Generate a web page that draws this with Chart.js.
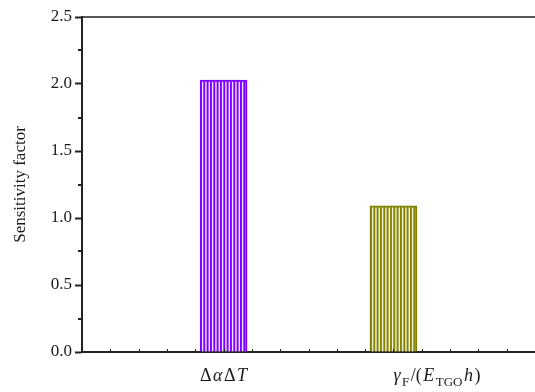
<!DOCTYPE html>
<html>
<head>
<meta charset="utf-8">
<script src="https://cdn.jsdelivr.net/npm/chart.js@4.4.0/dist/chart.umd.min.js"></script>
<style>
  body { margin: 0; background: #fff; }
</style>
</head>
<body>
<canvas id="chart" width="535" height="392"></canvas>
<script>
// data
const categories = ['ΔαΔT', 'γF/(ETGO h)'];
const xValues = [5, 11];
const sensitivity = [2.03, 1.09];
const yTicks = [0, 0.5, 1.0, 1.5, 2.0, 2.5];

// rich text pieces for the x labels (italic / subscript)
const labelParts = [
    [{ t: 'Δ' }, { t: 'α', it: true }, { t: 'Δ' }, { t: 'T', it: true }],
    [{ t: 'γ', it: true }, { t: 'F', sub: true }, { t: '/(' }, { t: 'E', it: true },
     { t: 'TGO', sub: true }, { t: 'h', it: true }, { t: ')' }]
];

const SERIF = '"Liberation Serif", "DejaVu Serif", serif';

// vertical stripes like the origin fill
function stripes(line, bg) {
    const c = document.createElement('canvas');
    c.width = 10; c.height = 10;
    const g = c.getContext('2d');
    g.fillStyle = bg;
    g.fillRect(0, 0, 10, 10);
    g.fillStyle = line;
    for (let i = 0; i < 3; i++) g.fillRect(i * 10 / 3, 0, 1.9, 10);
    return g.createPattern(c, 'repeat');
}

const ctx = document.getElementById('chart').getContext('2d');

const framePlugin = {
    id: 'frame',
    afterDraw(chart) {
        const c = chart.ctx;
        const area = chart.chartArea;
        const xs = chart.scales.x, ys = chart.scales.y;
        c.save();
        c.strokeStyle = '#222';
        // top line
        c.lineWidth = 1.5;
        c.beginPath();
        c.moveTo(area.left, area.top);
        c.lineTo(chart.width, area.top);
        c.stroke();
        // minor y ticks
        c.lineWidth = 2;
        for (let v = 0.25; v < 2.5; v += 0.5) {
            const y = Math.round(ys.getPixelForValue(v));
            c.beginPath();
            c.moveTo(area.left - 4, y);
            c.lineTo(area.left, y);
            c.stroke();
        }
        // small inward ticks on x axis
        c.lineWidth = 1;
        for (let v = 1; v < 16; v++) {
            const x = Math.round(xs.getPixelForValue(v)) + 0.5;
            c.beginPath();
            c.moveTo(x, area.bottom);
            c.lineTo(x, area.bottom - 3);
            c.stroke();
        }
        // x labels
        c.fillStyle = '#1a1a1a';
        c.textBaseline = 'alphabetic';
        c.textAlign = 'left';
        const base = area.bottom + 29;
        labelParts.forEach((parts, i) => {
            const widths = parts.map(p => {
                c.font = fontFor(p);
                return c.measureText(p.t).width;
            });
            const gap = 1.5;
            const total = widths.reduce((a, b) => a + b, 0) + gap * (parts.length - 1);
            const cx = xs.getPixelForValue(xValues[i]);
            let x = i === 0 ? cx - total / 2 : cx;
            parts.forEach((p, j) => {
                c.font = fontFor(p);
                c.fillText(p.t, x, p.sub ? base + 5 : base);
                x += widths[j] + gap;
            });
        });
        c.restore();
    }
};

function fontFor(p) {
    if (p.sub) return '13px ' + SERIF;
    return (p.it ? 'italic ' : '') + '18px ' + SERIF;
}

new Chart(ctx, {
    type: 'bar',
    data: {
        datasets: [{
            data: xValues.map((x, i) => ({ x: x, y: sensitivity[i] })),
            backgroundColor: [stripes('#7f00ff', '#ede0ff'), stripes('#858500', '#f0f0dc')],
            borderColor: ['#7f00ff', '#808000'],
            borderWidth: 2,
            barThickness: 47
        }]
    },
    options: {
        responsive: false,
        animation: false,
        layout: { padding: { top: 17, right: 0, left: 0, bottom: 0 } },
        plugins: {
            legend: { display: false },
            tooltip: { enabled: false }
        },
        scales: {
            x: {
                type: 'linear',
                offset: false,
                min: 0,
                max: 16,
                ticks: { display: false },
                grid: { display: false, offset: false },
                border: { display: true, color: '#222', width: 2 },
                afterFit: s => { s.height = 40; }
            },
            y: {
                min: 0,
                max: 2.5,
                afterBuildTicks: s => { s.ticks = yTicks.map(v => ({ value: v })); },
                ticks: {
                    callback: v => v.toFixed(1),
                    font: { family: SERIF, size: 17 },
                    color: '#1a1a1a',
                    padding: 3
                },
                grid: {
                    drawOnChartArea: false,
                    tickLength: 7,
                    tickWidth: 2,
                    tickColor: '#222'
                },
                border: { display: true, color: '#222', width: 2 },
                title: {
                    display: true,
                    text: 'Sensitivity factor',
                    font: { family: SERIF, size: 17 },
                    color: '#1a1a1a',
                    padding: { top: 10, bottom: 0 }
                },
                afterFit: s => { s.width = 82; }
            }
        }
    },
    plugins: [framePlugin]
});
</script>
</body>
</html>
